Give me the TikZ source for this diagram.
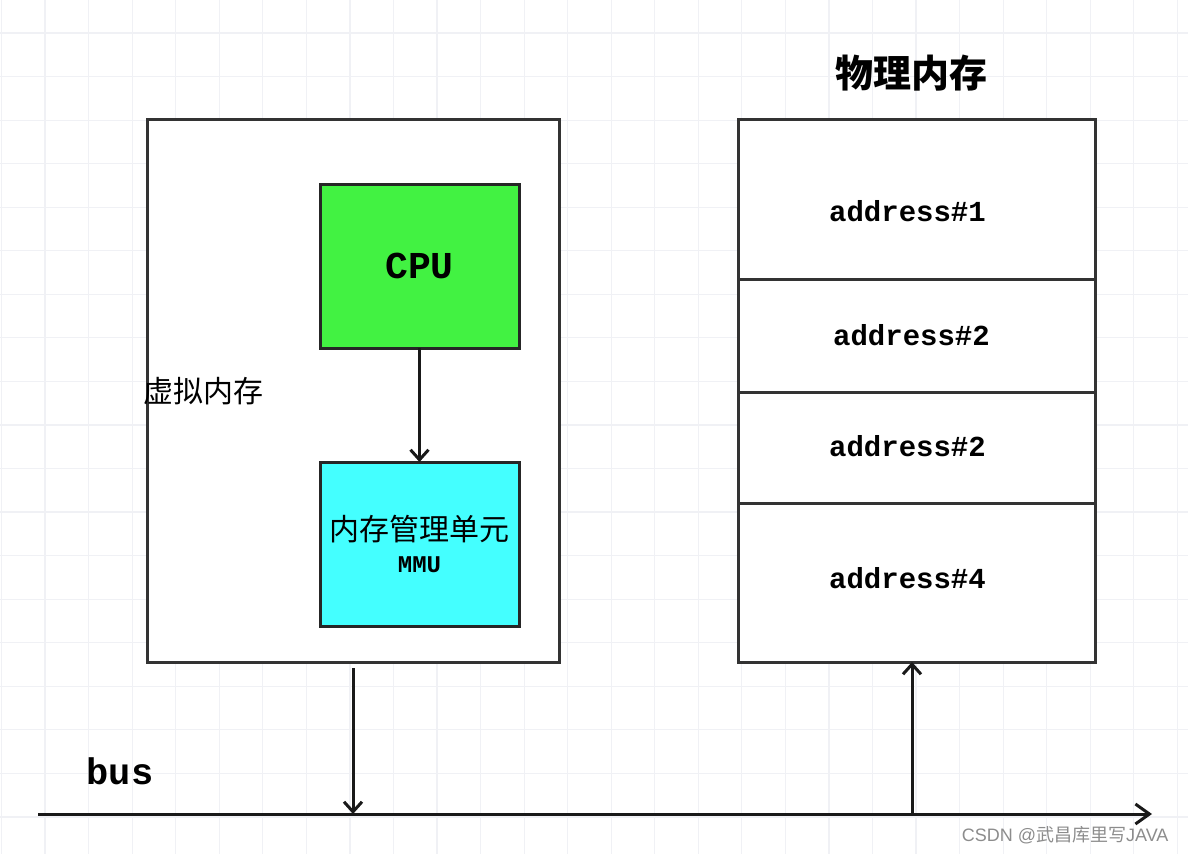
\documentclass[tikz,border=0pt]{standalone}
\usepackage{fontspec}
\setmainfont{Liberation Serif}
\setmonofont{Liberation Mono}
\newfontfamily\cjk{Noto Sans CJK SC}
\newfontfamily\wmfont{Liberation Sans}
\usetikzlibrary{positioning,arrows.meta}

\definecolor{cpugreen}{RGB}{66,242,66}
\definecolor{mmucyan}{RGB}{68,255,255}
\definecolor{gridgray}{RGB}{240,241,245}

\begin{document}
\begin{tikzpicture}[x=1pt, y=-1pt,
    box/.style={draw=black!80, line width=3pt, inner sep=0pt, outer sep=0pt, fill=white},
    unitbox/.style={box, draw=black!85, minimum width=199pt, minimum height=164pt, anchor=north west},
    memrow/.style={box, minimum width=357pt},
    addr/.style={font=\ttfamily\bfseries\fontsize{29}{32}\selectfont},
    cjklabel/.style={font=\cjk\fontsize{30}{34}\selectfont},
    link/.style={draw=black!90, line width=3pt, -{Straight Barb[length=10pt, width=18pt]}}
    ]
        \useasboundingbox (0,0) rectangle (1188,854);
        %Grid
        \foreach \i in {0,...,27}
            \draw[gridgray, line width=1.2pt] (1.5+43.55*\i,0) -- ++(0,854);
        \foreach \j in {0,...,19}
            \draw[gridgray, line width=1.2pt] (0,33+43.55*\j) -- ++(1188,0);

        %Nodes
        \node[box, minimum width=412pt, minimum height=543pt, anchor=north west]
            (vm) at (147,119) {};
        \node[cjklabel]
            (vmlabel) at (203,391) {虚拟内存};
        \node[unitbox, fill=cpugreen]
            (cpu) at (320,184) {\ttfamily\bfseries\fontsize{38}{42}\selectfont CPU};
        \node[unitbox, fill=mmucyan, align=center, cjklabel]
            (mmu) at (320,462) {内存管理单元\\[-2pt]
                {\ttfamily\bfseries\fontsize{24}{26}\selectfont MMU}};

        \node[font=\cjk\bfseries\fontsize{38}{42}\selectfont]
            (pmtitle) at (911,73) {物理内存};
        \node[memrow, minimum height=160pt, anchor=north west,
            label={[addr, xshift=-9pt, yshift=-12pt]center:address\#1}]
            (pm1) at (738,119) {};
        \node[memrow, minimum height=113pt, below=0pt of pm1,
            label={[addr, xshift=-5pt]center:address\#2}]
            (pm2) {};
        \node[memrow, minimum height=111pt, below=0pt of pm2,
            label={[addr, xshift=-9pt, yshift=1pt]center:address\#2}]
            (pm3) {};
        \node[memrow, minimum height=159pt, below=0pt of pm3,
            label={[addr, xshift=-9pt, yshift=4pt]center:address\#4}]
            (pm4) {};

        \node[font=\ttfamily\bfseries\fontsize{37}{40}\selectfont]
            (buslabel) at (120,771) {bus};
        \coordinate (busL) at (38,814);
        \coordinate (busR) at (1152,814);
        \coordinate (busA) at (353,814);
        \coordinate (busB) at (912,814);

        \node[anchor=base east, text=black!45, font=\fontsize{18}{20}\selectfont]
            (mark) at (1172,841) {{\wmfont CSDN @}{\cjk 武昌库里写}{\wmfont JAVA}};

        %Lines
        \draw[link]
            (cpu.south) -- (mmu.north);
        \draw[draw=black!90, line width=3pt, -{Straight Barb[length=14pt, width=20pt]}]
            (busL) -- (busR);
        \draw[link]
            ([yshift=-6pt]vm.south -| busA) -- (busA);
        \draw[link]
            (busB) -- (busB |- pm4.south);
    \end{tikzpicture}
\end{document}
